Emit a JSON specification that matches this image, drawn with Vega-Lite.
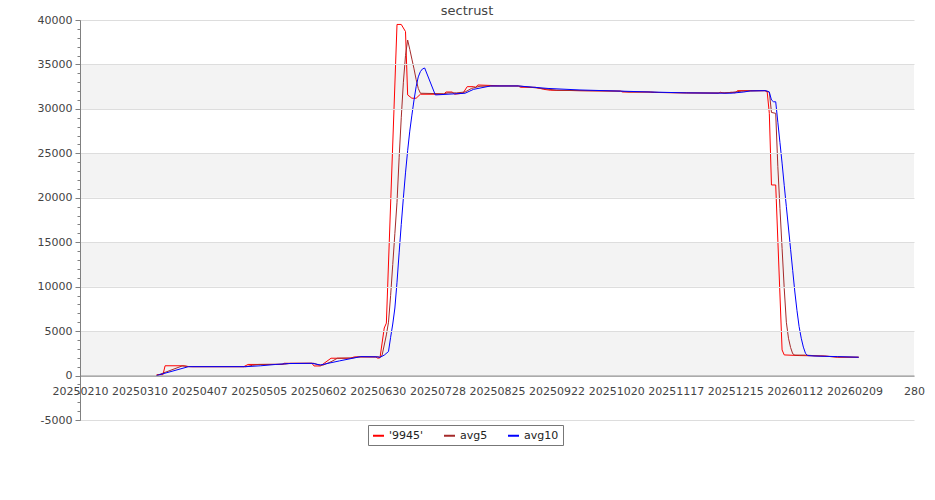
{
  "$schema": "https://vega.github.io/schema/vega-lite/v6.json",
  "autosize": {"type": "none"},
  "padding": {"left": 80, "top": 20, "right": 21, "bottom": 80},
  "width": 834,
  "height": 400,
  "background": "#ffffff",
  "title": {"text": "sectrust", "font": "DejaVu Sans", "fontSize": 13, "fontWeight": "normal", "color": "#444444", "anchor": "middle", "dx": -30, "dy": 19, "offset": 5, "baseline": "alphabetic"},
  "config": {"view": {"stroke": null}},
  "datasets": {
    "bands": [
      {"lo": 0, "hi": 5000},
      {"lo": 10000, "hi": 15000},
      {"lo": 20000, "hi": 25000},
      {"lo": 30000, "hi": 35000}
    ],
    "series": [
      {"s": "'9945'", "d": "2025-03-18", "v": 100},
      {"s": "'9945'", "d": "2025-03-21", "v": 100},
      {"s": "'9945'", "d": "2025-03-22", "v": 1100},
      {"s": "'9945'", "d": "2025-03-31", "v": 1100},
      {"s": "'9945'", "d": "2025-04-02", "v": 1000},
      {"s": "'9945'", "d": "2025-04-28", "v": 1000},
      {"s": "'9945'", "d": "2025-04-30", "v": 1250},
      {"s": "'9945'", "d": "2025-05-16", "v": 1250},
      {"s": "'9945'", "d": "2025-05-17", "v": 1380},
      {"s": "'9945'", "d": "2025-05-30", "v": 1380},
      {"s": "'9945'", "d": "2025-05-31", "v": 1080},
      {"s": "'9945'", "d": "2025-06-03", "v": 1080},
      {"s": "'9945'", "d": "2025-06-08", "v": 1950},
      {"s": "'9945'", "d": "2025-06-17", "v": 1950},
      {"s": "'9945'", "d": "2025-06-19", "v": 2100},
      {"s": "'9945'", "d": "2025-06-29", "v": 2100},
      {"s": "'9945'", "d": "2025-06-30", "v": 1950},
      {"s": "'9945'", "d": "2025-07-01", "v": 2000},
      {"s": "'9945'", "d": "2025-07-03", "v": 5350},
      {"s": "'9945'", "d": "2025-07-04", "v": 5900},
      {"s": "'9945'", "d": "2025-07-09", "v": 39500},
      {"s": "'9945'", "d": "2025-07-11", "v": 39500},
      {"s": "'9945'", "d": "2025-07-13", "v": 38700},
      {"s": "'9945'", "d": "2025-07-14", "v": 31570},
      {"s": "'9945'", "d": "2025-07-16", "v": 31200},
      {"s": "'9945'", "d": "2025-07-18", "v": 31200},
      {"s": "'9945'", "d": "2025-07-20", "v": 31650},
      {"s": "'9945'", "d": "2025-07-31", "v": 31650},
      {"s": "'9945'", "d": "2025-08-01", "v": 31900},
      {"s": "'9945'", "d": "2025-08-04", "v": 31900},
      {"s": "'9945'", "d": "2025-08-05", "v": 31650},
      {"s": "'9945'", "d": "2025-08-09", "v": 31760},
      {"s": "'9945'", "d": "2025-08-11", "v": 32500},
      {"s": "'9945'", "d": "2025-08-14", "v": 32500},
      {"s": "'9945'", "d": "2025-08-15", "v": 32430},
      {"s": "'9945'", "d": "2025-08-16", "v": 32690},
      {"s": "'9945'", "d": "2025-08-26", "v": 32600},
      {"s": "'9945'", "d": "2025-09-04", "v": 32580},
      {"s": "'9945'", "d": "2025-09-05", "v": 32430},
      {"s": "'9945'", "d": "2025-09-12", "v": 32430},
      {"s": "'9945'", "d": "2025-09-16", "v": 32200},
      {"s": "'9945'", "d": "2025-09-19", "v": 32100},
      {"s": "'9945'", "d": "2025-10-03", "v": 32050},
      {"s": "'9945'", "d": "2025-10-22", "v": 32000},
      {"s": "'9945'", "d": "2025-10-23", "v": 31900},
      {"s": "'9945'", "d": "2025-11-04", "v": 31900},
      {"s": "'9945'", "d": "2025-11-07", "v": 31850},
      {"s": "'9945'", "d": "2025-11-22", "v": 31800},
      {"s": "'9945'", "d": "2025-12-07", "v": 31760},
      {"s": "'9945'", "d": "2025-12-08", "v": 31870},
      {"s": "'9945'", "d": "2025-12-10", "v": 31760},
      {"s": "'9945'", "d": "2025-12-13", "v": 31870},
      {"s": "'9945'", "d": "2025-12-15", "v": 31800},
      {"s": "'9945'", "d": "2025-12-16", "v": 32050},
      {"s": "'9945'", "d": "2025-12-29", "v": 32050},
      {"s": "'9945'", "d": "2025-12-30", "v": 31900},
      {"s": "'9945'", "d": "2025-12-31", "v": 29500},
      {"s": "'9945'", "d": "2026-01-01", "v": 21440},
      {"s": "'9945'", "d": "2026-01-03", "v": 21440},
      {"s": "'9945'", "d": "2026-01-06", "v": 2880},
      {"s": "'9945'", "d": "2026-01-07", "v": 2320},
      {"s": "'9945'", "d": "2026-01-14", "v": 2250},
      {"s": "'9945'", "d": "2026-01-26", "v": 2200},
      {"s": "'9945'", "d": "2026-02-01", "v": 2060},
      {"s": "'9945'", "d": "2026-02-11", "v": 2060},

      {"s": "avg5", "d": "2025-03-18", "v": 0},
      {"s": "avg5", "d": "2025-03-30", "v": 1080},
      {"s": "avg5", "d": "2025-04-02", "v": 1020},
      {"s": "avg5", "d": "2025-04-04", "v": 1000},
      {"s": "avg5", "d": "2025-04-29", "v": 1000},
      {"s": "avg5", "d": "2025-05-02", "v": 1150},
      {"s": "avg5", "d": "2025-05-05", "v": 1250},
      {"s": "avg5", "d": "2025-05-17", "v": 1280},
      {"s": "avg5", "d": "2025-05-20", "v": 1370},
      {"s": "avg5", "d": "2025-05-31", "v": 1380},
      {"s": "avg5", "d": "2025-06-02", "v": 1200},
      {"s": "avg5", "d": "2025-06-04", "v": 1150},
      {"s": "avg5", "d": "2025-06-08", "v": 1550},
      {"s": "avg5", "d": "2025-06-11", "v": 1950},
      {"s": "avg5", "d": "2025-06-18", "v": 1980},
      {"s": "avg5", "d": "2025-06-21", "v": 2100},
      {"s": "avg5", "d": "2025-06-30", "v": 2100},
      {"s": "avg5", "d": "2025-07-01", "v": 2050},
      {"s": "avg5", "d": "2025-07-02", "v": 2300},
      {"s": "avg5", "d": "2025-07-04", "v": 4570},
      {"s": "avg5", "d": "2025-07-05", "v": 6000},
      {"s": "avg5", "d": "2025-07-06", "v": 9000},
      {"s": "avg5", "d": "2025-07-07", "v": 12500},
      {"s": "avg5", "d": "2025-07-08", "v": 16000},
      {"s": "avg5", "d": "2025-07-09", "v": 19500},
      {"s": "avg5", "d": "2025-07-10", "v": 24500},
      {"s": "avg5", "d": "2025-07-11", "v": 29000},
      {"s": "avg5", "d": "2025-07-12", "v": 33000},
      {"s": "avg5", "d": "2025-07-13", "v": 36000},
      {"s": "avg5", "d": "2025-07-14", "v": 37750},
      {"s": "avg5", "d": "2025-07-15", "v": 36700},
      {"s": "avg5", "d": "2025-07-16", "v": 35600},
      {"s": "avg5", "d": "2025-07-17", "v": 34500},
      {"s": "avg5", "d": "2025-07-18", "v": 33300},
      {"s": "avg5", "d": "2025-07-19", "v": 32300},
      {"s": "avg5", "d": "2025-07-20", "v": 31760},
      {"s": "avg5", "d": "2025-07-31", "v": 31700},
      {"s": "avg5", "d": "2025-08-02", "v": 31800},
      {"s": "avg5", "d": "2025-08-06", "v": 31800},
      {"s": "avg5", "d": "2025-08-10", "v": 31900},
      {"s": "avg5", "d": "2025-08-13", "v": 32300},
      {"s": "avg5", "d": "2025-08-17", "v": 32550},
      {"s": "avg5", "d": "2025-09-04", "v": 32580},
      {"s": "avg5", "d": "2025-09-09", "v": 32450},
      {"s": "avg5", "d": "2025-09-17", "v": 32250},
      {"s": "avg5", "d": "2025-09-22", "v": 32100},
      {"s": "avg5", "d": "2025-10-03", "v": 32050},
      {"s": "avg5", "d": "2025-10-22", "v": 32000},
      {"s": "avg5", "d": "2025-10-26", "v": 31900},
      {"s": "avg5", "d": "2025-11-05", "v": 31900},
      {"s": "avg5", "d": "2025-11-09", "v": 31850},
      {"s": "avg5", "d": "2025-11-23", "v": 31800},
      {"s": "avg5", "d": "2025-12-09", "v": 31800},
      {"s": "avg5", "d": "2025-12-13", "v": 31850},
      {"s": "avg5", "d": "2025-12-18", "v": 32000},
      {"s": "avg5", "d": "2025-12-29", "v": 32050},
      {"s": "avg5", "d": "2025-12-31", "v": 31900},
      {"s": "avg5", "d": "2026-01-01", "v": 29600},
      {"s": "avg5", "d": "2026-01-03", "v": 29500},
      {"s": "avg5", "d": "2026-01-04", "v": 23500},
      {"s": "avg5", "d": "2026-01-05", "v": 18800},
      {"s": "avg5", "d": "2026-01-06", "v": 14300},
      {"s": "avg5", "d": "2026-01-07", "v": 9800},
      {"s": "avg5", "d": "2026-01-08", "v": 6000},
      {"s": "avg5", "d": "2026-01-09", "v": 4200},
      {"s": "avg5", "d": "2026-01-10", "v": 3150},
      {"s": "avg5", "d": "2026-01-11", "v": 2450},
      {"s": "avg5", "d": "2026-01-12", "v": 2300},
      {"s": "avg5", "d": "2026-01-17", "v": 2300},
      {"s": "avg5", "d": "2026-01-24", "v": 2200},
      {"s": "avg5", "d": "2026-02-01", "v": 2100},
      {"s": "avg5", "d": "2026-02-11", "v": 2060},

      {"s": "avg10", "d": "2025-03-18", "v": 0},
      {"s": "avg10", "d": "2025-04-02", "v": 1000},
      {"s": "avg10", "d": "2025-04-29", "v": 1000},
      {"s": "avg10", "d": "2025-05-06", "v": 1100},
      {"s": "avg10", "d": "2025-05-13", "v": 1250},
      {"s": "avg10", "d": "2025-05-19", "v": 1350},
      {"s": "avg10", "d": "2025-05-30", "v": 1380},
      {"s": "avg10", "d": "2025-06-03", "v": 1190},
      {"s": "avg10", "d": "2025-06-12", "v": 1650},
      {"s": "avg10", "d": "2025-06-22", "v": 2130},
      {"s": "avg10", "d": "2025-06-30", "v": 2100},
      {"s": "avg10", "d": "2025-07-01", "v": 2050},
      {"s": "avg10", "d": "2025-07-03", "v": 2300},
      {"s": "avg10", "d": "2025-07-05", "v": 2700},
      {"s": "avg10", "d": "2025-07-06", "v": 4300},
      {"s": "avg10", "d": "2025-07-07", "v": 5800},
      {"s": "avg10", "d": "2025-07-08", "v": 7600},
      {"s": "avg10", "d": "2025-07-09", "v": 10500},
      {"s": "avg10", "d": "2025-07-10", "v": 13800},
      {"s": "avg10", "d": "2025-07-11", "v": 17000},
      {"s": "avg10", "d": "2025-07-12", "v": 20000},
      {"s": "avg10", "d": "2025-07-13", "v": 22800},
      {"s": "avg10", "d": "2025-07-14", "v": 25300},
      {"s": "avg10", "d": "2025-07-15", "v": 27500},
      {"s": "avg10", "d": "2025-07-16", "v": 29300},
      {"s": "avg10", "d": "2025-07-17", "v": 31000},
      {"s": "avg10", "d": "2025-07-18", "v": 32500},
      {"s": "avg10", "d": "2025-07-19", "v": 33600},
      {"s": "avg10", "d": "2025-07-20", "v": 34200},
      {"s": "avg10", "d": "2025-07-21", "v": 34500},
      {"s": "avg10", "d": "2025-07-22", "v": 34600},
      {"s": "avg10", "d": "2025-07-27", "v": 31570},
      {"s": "avg10", "d": "2025-08-10", "v": 31760},
      {"s": "avg10", "d": "2025-08-14", "v": 32200},
      {"s": "avg10", "d": "2025-08-22", "v": 32580},
      {"s": "avg10", "d": "2025-09-04", "v": 32580},
      {"s": "avg10", "d": "2025-09-18", "v": 32300},
      {"s": "avg10", "d": "2025-10-03", "v": 32130},
      {"s": "avg10", "d": "2025-10-22", "v": 32000},
      {"s": "avg10", "d": "2025-11-05", "v": 31900},
      {"s": "avg10", "d": "2025-11-22", "v": 31800},
      {"s": "avg10", "d": "2025-12-13", "v": 31760},
      {"s": "avg10", "d": "2025-12-19", "v": 31900},
      {"s": "avg10", "d": "2025-12-22", "v": 32020},
      {"s": "avg10", "d": "2025-12-29", "v": 32050},
      {"s": "avg10", "d": "2025-12-30", "v": 32000},
      {"s": "avg10", "d": "2025-12-31", "v": 31900},
      {"s": "avg10", "d": "2026-01-01", "v": 31000},
      {"s": "avg10", "d": "2026-01-02", "v": 30800},
      {"s": "avg10", "d": "2026-01-03", "v": 30800},
      {"s": "avg10", "d": "2026-01-04", "v": 28500},
      {"s": "avg10", "d": "2026-01-05", "v": 26200},
      {"s": "avg10", "d": "2026-01-06", "v": 23900},
      {"s": "avg10", "d": "2026-01-07", "v": 21400},
      {"s": "avg10", "d": "2026-01-08", "v": 19000},
      {"s": "avg10", "d": "2026-01-09", "v": 16600},
      {"s": "avg10", "d": "2026-01-10", "v": 14200},
      {"s": "avg10", "d": "2026-01-11", "v": 11800},
      {"s": "avg10", "d": "2026-01-12", "v": 9400},
      {"s": "avg10", "d": "2026-01-13", "v": 7300},
      {"s": "avg10", "d": "2026-01-14", "v": 5500},
      {"s": "avg10", "d": "2026-01-15", "v": 4200},
      {"s": "avg10", "d": "2026-01-16", "v": 3200},
      {"s": "avg10", "d": "2026-01-17", "v": 2500},
      {"s": "avg10", "d": "2026-01-18", "v": 2250},
      {"s": "avg10", "d": "2026-01-21", "v": 2200},
      {"s": "avg10", "d": "2026-02-01", "v": 2130},
      {"s": "avg10", "d": "2026-02-11", "v": 2060}
    ]
  },
  "layer": [
    {
      "data": {"name": "bands"},
      "mark": {"type": "rect", "color": "#f3f3f3"},
      "encoding": {
        "y": {
          "field": "lo", "type": "quantitative",
          "scale": {"domain": [-5000, 40000], "nice": false, "zero": false},
          "axis": {
            "orient": "left", "title": null, "labels": false, "domain": false, "grid": false,
            "tickSize": 3, "tickColor": "#808080",
            "values": [-5000,-4000,-3000,-2000,-1000,0,1000,2000,3000,4000,5000,6000,7000,8000,9000,10000,11000,12000,13000,14000,15000,16000,17000,18000,19000,20000,21000,22000,23000,24000,25000,26000,27000,28000,29000,30000,31000,32000,33000,34000,35000,36000,37000,38000,39000,40000]
          }
        },
        "y2": {"field": "hi"}
      }
    },
    {
      "data": {"name": "series"},
      "mark": {"type": "line", "strokeWidth": 1, "interpolate": "linear"},
      "encoding": {
        "x": {
          "field": "d", "type": "temporal",
          "scale": {"type": "utc", "domain": [{"year": 2025, "month": 2, "date": 10, "utc": true}, {"year": 2026, "month": 3, "date": 9, "utc": true}], "nice": false},
          "axis": {
            "title": null, "offset": -44.44, "ticks": false, "labelPadding": 10, "grid": false,
            "domainColor": "#808080", "labelFont": "DejaVu Sans", "labelFontSize": 11, "labelColor": "#444444",
            "labelOverlap": false, "labelFlush": false, "labelBound": false, "zindex": 1,
            "values": [
              {"year": 2025, "month": 2, "date": 10, "utc": true},
              {"year": 2025, "month": 3, "date": 10, "utc": true},
              {"year": 2025, "month": 4, "date": 7, "utc": true},
              {"year": 2025, "month": 5, "date": 5, "utc": true},
              {"year": 2025, "month": 6, "date": 2, "utc": true},
              {"year": 2025, "month": 6, "date": 30, "utc": true},
              {"year": 2025, "month": 7, "date": 28, "utc": true},
              {"year": 2025, "month": 8, "date": 25, "utc": true},
              {"year": 2025, "month": 9, "date": 22, "utc": true},
              {"year": 2025, "month": 10, "date": 20, "utc": true},
              {"year": 2025, "month": 11, "date": 17, "utc": true},
              {"year": 2025, "month": 12, "date": 15, "utc": true},
              {"year": 2026, "month": 1, "date": 12, "utc": true},
              {"year": 2026, "month": 2, "date": 9, "utc": true},
              {"year": 2026, "month": 3, "date": 9, "utc": true}
            ],
            "labelExpr": "datum.index == 1 ? '280' : utcFormat(datum.value, '%Y%m%d')"
          }
        },
        "y": {
          "field": "v", "type": "quantitative",
          "scale": {"domain": [-5000, 40000], "nice": false, "zero": false},
          "axis": {
            "orient": "left", "title": null,
            "values": [-5000, 0, 5000, 10000, 15000, 20000, 25000, 30000, 35000, 40000],
            "labelExpr": "datum.value < 0 ? '-' + abs(datum.value) : '' + datum.value",
            "tickSize": 5, "tickColor": "#808080", "domainColor": "#808080",
            "grid": true, "gridColor": "#dddddd", "labelPadding": 3,
            "labelFont": "DejaVu Sans", "labelFontSize": 11, "labelColor": "#444444", "zindex": 1
          }
        },
        "color": {
          "field": "s", "type": "nominal",
          "scale": {"domain": ["'9945'", "avg5", "avg10"], "range": ["#ff0000", "#a52a2a", "#0000ff"]},
          "legend": {
            "orient": "none", "legendX": 288, "legendY": 405, "direction": "horizontal", "title": null,
            "strokeColor": "#777777", "fillColor": "#ffffff", "padding": 4,
            "symbolType": "stroke", "symbolStrokeWidth": 2, "symbolSize": 121,
            "labelFont": "DejaVu Sans", "labelFontSize": 11, "labelColor": "#222222",
            "columnPadding": 16, "labelOffset": 4
          }
        }
      }
    }
  ],
  "resolve": {"axis": {"y": "independent"}}
}
